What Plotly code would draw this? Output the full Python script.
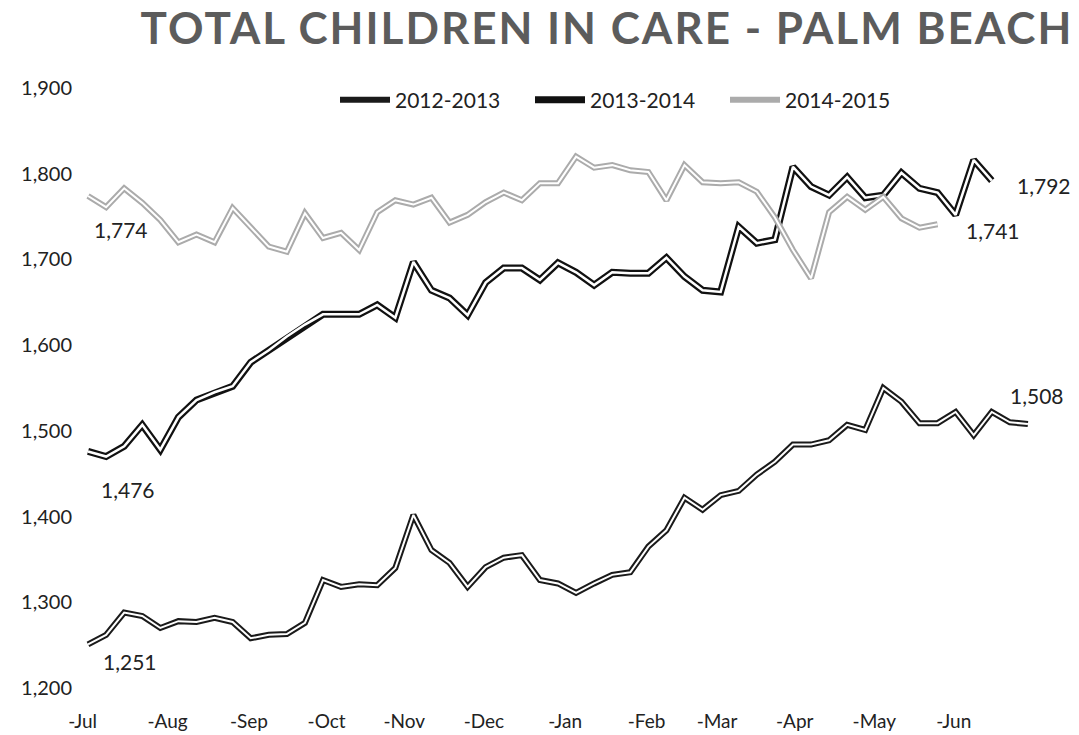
import plotly.graph_objects as go

# ---- data (weekly counts) ----
series_names = ["2012-2013", "2013-2014", "2014-2015"]

fy2012_13 = [1251, 1262, 1288, 1284, 1270, 1278, 1277, 1282, 1277, 1258,
             1262, 1263, 1276, 1326, 1318, 1321, 1320, 1340, 1402, 1361,
             1346, 1318, 1341, 1352, 1355, 1326, 1322, 1311, 1322, 1332,
             1335, 1365, 1384, 1422, 1408, 1425, 1430, 1449, 1464, 1484,
             1484, 1489, 1507, 1501, 1550, 1534, 1509, 1509, 1522, 1495,
             1522, 1510, 1508]

fy2013_14 = [1476, 1470, 1482, 1507, 1478, 1516, 1536, 1545, 1552, 1580,
             1594, 1610, 1624, 1636, 1636, 1636, 1647, 1632, 1697, 1664,
             1655, 1635, 1673, 1690, 1690, 1676, 1696, 1685, 1670, 1685,
             1684, 1684, 1702, 1680, 1664, 1662, 1738, 1719, 1723, 1808,
             1785, 1775, 1796, 1772, 1775, 1801, 1783, 1778, 1752, 1816,
             1792]

fy2014_15 = [1774, 1761, 1783, 1766, 1746, 1720, 1729, 1720, 1760, 1738,
             1715, 1709, 1754, 1725, 1731, 1711, 1755, 1769, 1764, 1772,
             1743, 1752, 1767, 1778, 1769, 1789, 1789, 1820, 1807, 1810,
             1804, 1802, 1769, 1810, 1790, 1789, 1790, 1779, 1749, 1711,
             1678, 1755, 1773, 1758, 1773, 1748, 1737, 1741]

month_labels = ["-Jul", "-Aug", "-Sep", "-Oct", "-Nov", "-Dec",
                "-Jan", "-Feb", "-Mar", "-Apr", "-May", "-Jun"]
month_tick_weeks = [-0.3, 4.4, 8.9, 13.2, 17.5, 21.9, 26.4, 30.9, 34.8, 39.1, 43.5, 47.9]

y_ticks = [1200, 1300, 1400, 1500, 1600, 1700, 1800, 1900]

all_series = [fy2012_13, fy2013_14, fy2014_15]
outer_colors = ["#1a1a1a", "#111111", "#ababab"]
outer_widths = [6, 7, 6]
inner_widths = [2, 2.5, 2]

FONT = "Lato"
TXT = "#222222"

fig = go.Figure()
for name, vals, oc, ow, iw in zip(series_names, all_series, outer_colors, outer_widths, inner_widths):
    x = list(range(len(vals)))
    fig.add_trace(go.Scatter(x=x, y=vals, mode="lines", name=name,
                             line=dict(color=oc, width=ow), legendgroup=name,
                             hoverinfo="skip"))
    fig.add_trace(go.Scatter(x=x, y=vals, mode="lines", name=name,
                             line=dict(color="white", width=iw), legendgroup=name,
                             showlegend=False, hoverinfo="skip"))

# first / last value labels (pixel offsets from the labelled point)
label_offsets = [
    [(42, -17), (9, 29)],
    [(40, -38), (52, -5)],
    [(33, -33), (55, -6)],
]
for vals, offs in zip(all_series, label_offsets):
    for idx, (dx, dy) in zip([0, len(vals) - 1], offs):
        fig.add_annotation(x=idx, y=vals[idx], text=f"{vals[idx]:,}", showarrow=False,
                           xshift=dx, yshift=dy, font=dict(family=FONT, size=21, color=TXT))

fig.update_layout(
    width=1079, height=735,
    margin=dict(l=79, r=33, t=88, b=47, autoexpand=False),
    paper_bgcolor="white", plot_bgcolor="white",
    title=dict(text='<span style="letter-spacing:2px">TOTAL CHILDREN IN CARE - PALM BEACH</span>',
               x=607 / 1079, xanchor="center", xref="container",
               y=1 - 29 / 735, yanchor="middle", yref="container",
               font=dict(family=FONT, size=44, color="#5c5c5c", weight="bold")),
    legend=dict(orientation="h", x=(335 - 79) / 967, xanchor="left",
                y=(688 - 100) / 600, yanchor="middle",
                font=dict(family=FONT, size=21, color=TXT),
                itemwidth=50,
                entrywidth=130, entrywidthmode="pixels",
                bgcolor="rgba(0,0,0,0)"),
    xaxis=dict(range=[-0.5, 53], showgrid=False, zeroline=False, showline=False,
               tickmode="array", tickvals=month_tick_weeks, ticktext=month_labels,
               ticks="", ticklabelstandoff=20, automargin=False,
               tickfont=dict(family=FONT, size=19, color=TXT)),
    yaxis=dict(range=[1200, 1900], showgrid=False, zeroline=False, showline=False,
               tickmode="array", tickvals=y_ticks, tickformat=",",
               ticks="", ticklabelstandoff=6, automargin=False,
               tickfont=dict(family=FONT, size=20, color=TXT)),
    showlegend=True,
)

fig.write_html("out.html",
               config={"displayModeBar": False},
               post_script="document.body.style.margin='0';document.body.style.overflow='hidden';")
